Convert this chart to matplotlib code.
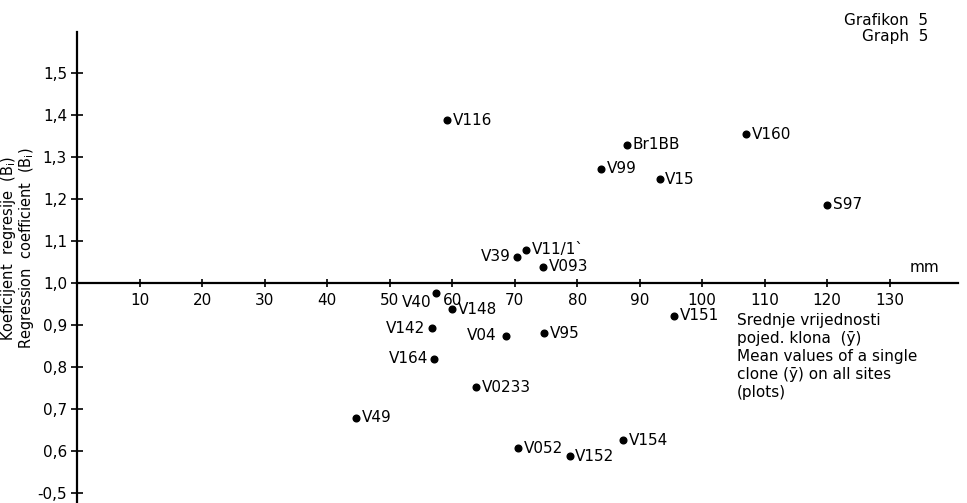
import matplotlib.pyplot as plt

# clone means (mm) and regression coefficients
clones = ['V116', 'Br1BB', 'V160', 'V99', 'V15', 'S97', 'V39', 'V11/1`', 'V093',
          'V40', 'V148', 'V142', 'V04', 'V95', 'V151', 'V164', 'V0233', 'V49',
          'V052', 'V152', 'V154']
mean_mm = [59.2, 87.9, 107.0, 83.8, 93.2, 120.0, 70.4, 71.8, 74.6,
           57.4, 60.0, 56.8, 68.6, 74.7, 95.5, 57.1, 63.8, 44.6,
           70.6, 78.8, 87.4]
coef = [1.388, 1.330, 1.355, 1.273, 1.248, 1.187, 1.063, 1.080, 1.039,
        0.977, 0.938, 0.892, 0.874, 0.880, 0.922, 0.820, 0.752, 0.679,
        0.606, 0.588, 0.626]

x_ticks = [10, 20, 30, 40, 50, 60, 70, 80, 90, 100, 110, 120, 130]
y_ticks = [0.5, 0.6, 0.7, 0.8, 0.9, 1.0, 1.1, 1.2, 1.3, 1.4, 1.5]
y_ticklabels = ['-0,5', '0,6', '0,7', '0,8', '0,9', '1,0', '1,1', '1,2', '1,3', '1,4', '1,5']

# labels that sit left of their dot (offset in points)
left_side = {'V39': (-5, 0), 'V40': (-3, -7), 'V142': (-5, 0), 'V164': (-4, 0), 'V04': (-7, 0)}

fs = 11
fig = plt.figure(figsize=(9.67, 5.03), dpi=100)
ax = fig.add_axes([0.08, 0.0, 0.911, 0.936])

ax.plot(mean_mm, coef, 'o', color='black', markersize=4.8, linestyle='none')
for name, x, y in zip(clones, mean_mm, coef):
    if name in left_side:
        ax.annotate(name, (x, y), xytext=left_side[name], textcoords='offset points',
                    ha='right', va='center', fontsize=fs)
    else:
        ax.annotate(name, (x, y), xytext=(4, 0), textcoords='offset points',
                    ha='left', va='center', fontsize=fs)

ax.set_xlim(0, 141)
ax.set_ylim(0.476, 1.598)
ax.spines['top'].set_visible(False)
ax.spines['right'].set_visible(False)
ax.spines['bottom'].set_position(('data', 1.0))
ax.spines['left'].set_linewidth(1.6)
ax.spines['bottom'].set_linewidth(1.6)

ax.set_xticks(x_ticks)
ax.set_xticklabels([str(t) for t in x_ticks], fontsize=fs)
ax.set_yticks(y_ticks)
ax.set_yticklabels(y_ticklabels, fontsize=fs)
ax.tick_params(axis='x', direction='inout', length=6, width=1.2, pad=4)
ax.tick_params(axis='y', direction='inout', length=9, width=1.2, pad=3)

ax.text(0.979, 0.50, 'mm', transform=ax.transAxes, fontsize=fs, ha='right', va='center')
fig.text(0.762, 0.378,
         'Srednje vrijednosti\npojed. klona  (ȳ)\nMean values of a single\nclone (ȳ) on all sites\n(plots)',
         fontsize=fs, ha='left', va='top', linespacing=1.25)

fig.text(0.018, 0.507,
         'Koeficijent  regresije  (B$_\\mathregular{i}$)\nRegression  coefficient  (B$_\\mathregular{i}$)',
         rotation=90, fontsize=10.5, ha='center', va='center', multialignment='center',
         linespacing=0.95)

fig.text(0.96, 0.96, 'Grafikon  5', fontsize=fs, ha='right', va='center')
fig.text(0.96, 0.928, 'Graph  5', fontsize=fs, ha='right', va='center')

fig.savefig('out.png', dpi=100)
